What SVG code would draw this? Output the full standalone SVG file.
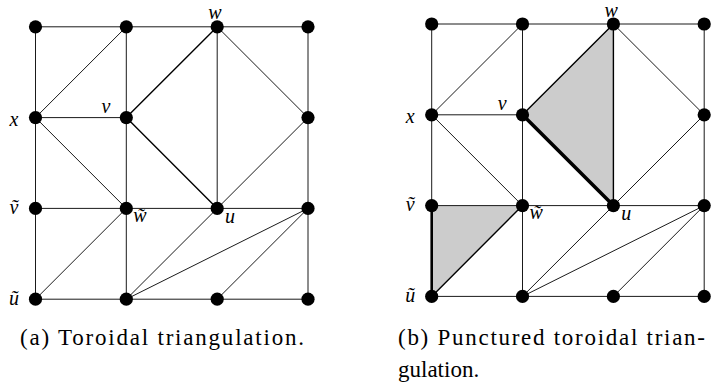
<svg xmlns="http://www.w3.org/2000/svg" width="720" height="392" viewBox="0 0 720 392">
<style>
.e{stroke:#1a1a1a;stroke-width:1;fill:none;stroke-linecap:round}
.m{stroke:#000;stroke-width:1.4;fill:none;stroke-linecap:round}
.t1{stroke:#000;stroke-width:2.6;fill:none;stroke-linecap:round}
.t2{stroke:#000;stroke-width:3.6;fill:none;stroke-linecap:round}
.f{fill:#cccccc;stroke:none}
.n{fill:#000}
.lbl{font-style:italic;font-size:20px;text-anchor:middle;fill:#000}
.cap{font-size:23px;fill:#000}
</style>
<rect width="720" height="392" fill="#fff"/>

<!-- Panel (a) -->
<g id="panel-a" font-family="Liberation Serif, DejaVu Serif, serif">
  <g id="a-connectors">
    <line class="e" x1="35.5" y1="26.8" x2="308" y2="26.8"/>
    <line class="e" x1="35.5" y1="117.6" x2="126.3" y2="117.6"/>
    <line class="e" x1="35.5" y1="208.4" x2="308" y2="208.4"/>
    <line class="e" x1="35.5" y1="299.2" x2="308" y2="299.2"/>
    <line class="e" x1="35.5" y1="26.8" x2="35.5" y2="299.2"/>
    <line class="e" x1="126.3" y1="26.8" x2="126.3" y2="299.2"/>
    <line class="e" x1="217.2" y1="26.8" x2="217.2" y2="208.4"/>
    <line class="e" x1="308" y1="26.8" x2="308" y2="299.2"/>
    <line class="e" x1="35.5" y1="117.6" x2="126.3" y2="26.8"/>
    <line class="e" x1="35.5" y1="117.6" x2="126.3" y2="208.4"/>
    <line class="m" x1="126.3" y1="117.6" x2="217.2" y2="26.8"/>
    <line class="m" x1="126.3" y1="117.6" x2="217.2" y2="208.4"/>
    <line class="e" x1="217.2" y1="26.8" x2="308" y2="117.6"/>
    <line class="e" x1="308" y1="117.6" x2="217.2" y2="208.4"/>
    <line class="e" x1="126.3" y1="208.4" x2="35.5" y2="299.2"/>
    <line class="e" x1="217.2" y1="208.4" x2="126.3" y2="299.2"/>
    <line class="e" x1="308" y1="208.4" x2="126.3" y2="299.2"/>
    <line class="e" x1="308" y1="208.4" x2="217.2" y2="299.2"/>
  </g>
  <g id="a-n11"><circle class="n" cx="35.5" cy="26.8" r="6.6"/></g>
  <g id="a-n12"><circle class="n" cx="126.3" cy="26.8" r="6.6"/></g>
  <g id="a-w"><circle class="n" cx="217.2" cy="26.8" r="6.6"/><text class="lbl" x="215" y="19">w</text></g>
  <g id="a-n14"><circle class="n" cx="308" cy="26.8" r="6.6"/></g>
  <g id="a-x"><circle class="n" cx="35.5" cy="117.6" r="6.6"/><text class="lbl" x="14" y="126">x</text></g>
  <g id="a-v"><circle class="n" cx="126.3" cy="117.6" r="6.6"/><text class="lbl" x="106" y="113">v</text></g>
  <g id="a-n24"><circle class="n" cx="308" cy="117.6" r="6.6"/></g>
  <g id="a-vt"><circle class="n" cx="35.5" cy="208.4" r="6.6"/><text class="lbl" x="14" y="214">ṽ</text></g>
  <g id="a-wt"><circle class="n" cx="126.3" cy="208.4" r="6.6"/><text class="lbl" x="140" y="222">w̃</text></g>
  <g id="a-u"><circle class="n" cx="217.2" cy="208.4" r="6.6"/><text class="lbl" x="230" y="223">u</text></g>
  <g id="a-n34"><circle class="n" cx="308" cy="208.4" r="6.6"/></g>
  <g id="a-ut"><circle class="n" cx="35.5" cy="299.2" r="6.6"/><text class="lbl" x="14" y="305">ũ</text></g>
  <g id="a-n42"><circle class="n" cx="126.3" cy="299.2" r="6.6"/></g>
  <g id="a-n43"><circle class="n" cx="217.2" cy="299.2" r="6.6"/></g>
  <g id="a-n44"><circle class="n" cx="308" cy="299.2" r="6.6"/></g>
</g>

<!-- Panel (b) -->
<g id="panel-b" transform="translate(396.2,-2.8)" font-family="Liberation Serif, DejaVu Serif, serif">
  <polygon class="f" points="126.3,117.6 217.2,26.8 217.2,208.4"/>
  <polygon class="f" points="35.5,208.4 35.5,299.2 126.3,208.4"/>
  <g id="b-connectors">
    <line class="e" x1="35.5" y1="26.8" x2="308" y2="26.8"/>
    <line class="e" x1="35.5" y1="117.6" x2="126.3" y2="117.6"/>
    <line class="e" x1="35.5" y1="208.4" x2="308" y2="208.4"/>
    <line class="e" x1="35.5" y1="299.2" x2="308" y2="299.2"/>
    <line class="e" x1="35.5" y1="26.8" x2="35.5" y2="208.4"/>
    <line class="t1" x1="35.5" y1="208.4" x2="35.5" y2="299.2"/>
    <line class="e" x1="126.3" y1="26.8" x2="126.3" y2="299.2"/>
    <line class="m" x1="217.2" y1="26.8" x2="217.2" y2="208.4"/>
    <line class="e" x1="308" y1="26.8" x2="308" y2="299.2"/>
    <line class="e" x1="35.5" y1="117.6" x2="126.3" y2="26.8"/>
    <line class="e" x1="35.5" y1="117.6" x2="126.3" y2="208.4"/>
    <line class="m" x1="126.3" y1="117.6" x2="217.2" y2="26.8"/>
    <line class="t2" x1="126.3" y1="117.6" x2="217.2" y2="208.4"/>
    <line class="e" x1="217.2" y1="26.8" x2="308" y2="117.6"/>
    <line class="e" x1="308" y1="117.6" x2="217.2" y2="208.4"/>
    <line class="m" x1="126.3" y1="208.4" x2="35.5" y2="299.2"/>
    <line class="e" x1="217.2" y1="208.4" x2="126.3" y2="299.2"/>
    <line class="e" x1="308" y1="208.4" x2="126.3" y2="299.2"/>
    <line class="e" x1="308" y1="208.4" x2="217.2" y2="299.2"/>
  </g>
  <g id="b-n11"><circle class="n" cx="35.5" cy="26.8" r="6.6"/></g>
  <g id="b-n12"><circle class="n" cx="126.3" cy="26.8" r="6.6"/></g>
  <g id="b-w"><circle class="n" cx="217.2" cy="26.8" r="6.6"/><text class="lbl" x="215" y="20">w</text></g>
  <g id="b-n14"><circle class="n" cx="308" cy="26.8" r="6.6"/></g>
  <g id="b-x"><circle class="n" cx="35.5" cy="117.6" r="6.6"/><text class="lbl" x="14" y="126">x</text></g>
  <g id="b-v"><circle class="n" cx="126.3" cy="117.6" r="6.6"/><text class="lbl" x="106" y="113">v</text></g>
  <g id="b-n24"><circle class="n" cx="308" cy="117.6" r="6.6"/></g>
  <g id="b-vt"><circle class="n" cx="35.5" cy="208.4" r="6.6"/><text class="lbl" x="14" y="214">ṽ</text></g>
  <g id="b-wt"><circle class="n" cx="126.3" cy="208.4" r="6.6"/><text class="lbl" x="140" y="222">w̃</text></g>
  <g id="b-u"><circle class="n" cx="217.2" cy="208.4" r="6.6"/><text class="lbl" x="230" y="223">u</text></g>
  <g id="b-n34"><circle class="n" cx="308" cy="208.4" r="6.6"/></g>
  <g id="b-ut"><circle class="n" cx="35.5" cy="299.2" r="6.6"/><text class="lbl" x="14" y="305">ũ</text></g>
  <g id="b-n42"><circle class="n" cx="126.3" cy="299.2" r="6.6"/></g>
  <g id="b-n43"><circle class="n" cx="217.2" cy="299.2" r="6.6"/></g>
  <g id="b-n44"><circle class="n" cx="308" cy="299.2" r="6.6"/></g>
</g>

<!-- Captions -->
<g id="captions" font-family="Liberation Serif, DejaVu Serif, serif">
<text class="cap" x="20" y="345" textLength="284" lengthAdjust="spacing">(a) Toroidal triangulation.</text>
<text class="cap" x="398" y="345" textLength="307" lengthAdjust="spacing">(b) Punctured toroidal trian-</text>
<text class="cap" x="398" y="377">gulation.</text>
</g>
</svg>
